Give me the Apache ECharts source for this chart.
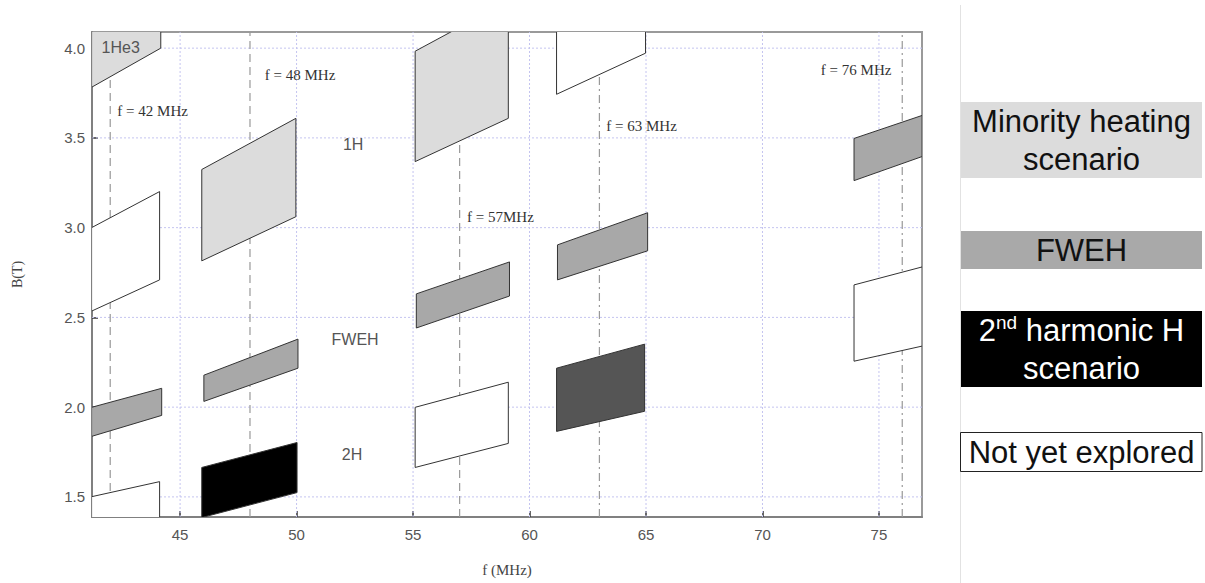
<!DOCTYPE html>
<html>
<head>
<meta charset="utf-8">
<script src="https://cdn.jsdelivr.net/npm/echarts@6/dist/echarts.min.js"></script>
<style>
html,body{margin:0;padding:0;background:#fff;}
#chart{width:1205px;height:583px;}
</style>
</head>
<body>
<div id="chart"></div>
<script>
// ---- axis ticks ----
const xTicks = [45, 50, 55, 60, 65, 70, 75];
const yTicks = [1.5, 2.0, 2.5, 3.0, 3.5, 4.0];
const freqLines = [42, 48, 57, 63, 76];

// ---- operating regions (parallelograms in f-B plane) ----
const regionKind   = ['minority','unexplored','fweh','unexplored','minority','fweh','second','minority','fweh','unexplored','unexplored','fweh','secondPartial','fweh','unexplored'];
const fLeft        = [41.2, 41.2, 41.2, 41.2, 45.93, 46.02, 45.93, 55.09, 55.14, 55.09, 61.16, 61.2, 61.16, 73.93, 73.93];
const fRight       = [44.17, 44.12, 44.21, 44.12, 49.97, 50.06, 50.02, 59.09, 59.14, 59.09, 64.98, 65.07, 64.94, 76.85, 76.85];
const bTopLeft     = [4.3, 3.0, 1.999, 1.501, 3.324, 2.178, 1.664, 3.983, 2.631, 1.999, 4.3, 2.904, 2.217, 3.497, 2.681];
const bTopRight    = [4.3, 3.201, 2.105, 1.585, 3.609, 2.379, 1.803, 4.263, 2.809, 2.139, 4.3, 3.083, 2.351, 3.625, 2.781];
const bBottomRight = [4.0, 2.709, 1.954, 1.3, 3.061, 2.217, 1.524, 3.609, 2.619, 1.798, 3.972, 2.871, 1.977, 3.396, 2.34];
const bBottomLeft  = [3.782, 2.535, 1.837, 1.3, 2.815, 2.032, 1.385, 3.368, 2.441, 1.664, 3.743, 2.709, 1.865, 3.262, 2.256];

// ---- in-plot annotations ----
const annoText = ['1He3', 'f = 42 MHz', 'f = 48 MHz', '1H', 'f = 57MHz', 'f = 63 MHz', 'f = 76 MHz', 'FWEH', '2H'];
const annoF    = [42.45, 43.82, 50.15, 52.43, 58.75, 64.81, 74.02, 52.51, 52.38];
const annoB    = [4.006, 3.648, 3.849, 3.463, 3.061, 3.564, 3.877, 2.379, 1.736];
const annoKind = ['region', 'freq', 'freq', 'region', 'freq', 'freq', 'freq', 'region', 'region'];

// ---- legend labels ----
const legendLabels = ['Minority heating\nscenario', 'FWEH', '2nd harmonic H\nscenario', 'Not yet explored'];

// ---- styles ----
const X_MIN = 41.218, X_MAX = 76.848, Y_MIN = 1.388, Y_MAX = 4.09;
const fillOf = {minority:'#dcdcdc', fweh:'#a8a8a8', second:'#000000', secondPartial:'#555555', unexplored:'#ffffff'};
const SANS = '"Liberation Sans", Arial, sans-serif';
const SERIF = '"Liberation Serif", "Times New Roman", serif';

const chart = echarts.init(document.getElementById('chart'), null, {renderer: 'svg'});

function vGridItem(params, api) {
  const v = api.value(0);
  const p1 = api.coord([v, Y_MIN]), p2 = api.coord([v, Y_MAX]);
  return {type:'line', shape:{x1:p1[0], y1:p1[1], x2:p2[0], y2:p2[1]},
    style:{stroke:'#c4c4f0', lineWidth:1, lineDash:[2,2]}, silent:true};
}
function hGridItem(params, api) {
  const v = api.value(1);
  const p1 = api.coord([X_MIN, v]), p2 = api.coord([X_MAX, v]);
  return {type:'line', shape:{x1:p1[0], y1:p1[1], x2:p2[0], y2:p2[1]},
    style:{stroke:'#c4c4f0', lineWidth:1, lineDash:[2,2]}, silent:true};
}
function freqItem(params, api) {
  const v = api.value(0);
  const p1 = api.coord([v, Y_MIN]), p2 = api.coord([v, Y_MAX]);
  const dash = (v === 63 || v === 76) ? [8,4,2,4] : [8,5];
  return {type:'line', shape:{x1:p1[0], y1:p1[1], x2:p2[0], y2:p2[1]},
    style:{stroke:'#999999', lineWidth:1.2, lineDash:dash}, silent:true};
}
function regionItem(params, api) {
  const i = params.dataIndex;
  const pts = [
    api.coord([fLeft[i], bTopLeft[i]]),
    api.coord([fRight[i], bTopRight[i]]),
    api.coord([fRight[i], bBottomRight[i]]),
    api.coord([fLeft[i], bBottomLeft[i]])
  ];
  return {type:'polygon', shape:{points:pts},
    style:{fill:fillOf[regionKind[i]], stroke:'#333', lineWidth:1}};
}
function annoItem(params, api) {
  const i = params.dataIndex;
  const p = api.coord([annoF[i], annoB[i]]);
  const isFreq = annoKind[i] === 'freq';
  return {type:'text', x:p[0], y:p[1], silent:true,
    style:{text:annoText[i], align:'center', verticalAlign:'middle',
      font: isFreq ? ('15px ' + SERIF) : ('16px ' + SANS),
      fill: isFreq ? '#333' : '#555'}};
}

const option = {
  backgroundColor:'#fff',
  animation:false,
  grid:{left:92, right:283, top:32, bottom:66, show:true, borderColor:'#9a9a9a', borderWidth:2, backgroundColor:'transparent'},
  xAxis:{
    type:'value', min:X_MIN, max:X_MAX,
    name:'f (MHz)', nameLocation:'middle', nameGap:45,
    nameTextStyle:{fontFamily:SERIF, fontSize:15, color:'#444'},
    axisLine:{show:true, lineStyle:{color:'#808080', width:2}},
    axisTick:{show:true, inside:true, length:6, customValues:xTicks, lineStyle:{color:'#333', width:1.5}},
    axisLabel:{customValues:xTicks, fontFamily:SANS, fontSize:15, color:'#555', margin:10},
    splitLine:{show:false}
  },
  yAxis:{
    type:'value', min:Y_MIN, max:Y_MAX,
    name:'B(T)', nameLocation:'middle', nameGap:68,
    nameTextStyle:{fontFamily:SERIF, fontSize:14, color:'#444'},
    axisLine:{show:true, lineStyle:{color:'#808080', width:2}},
    axisTick:{show:true, inside:true, length:6, customValues:yTicks, lineStyle:{color:'#333', width:1.5}},
    axisLabel:{customValues:yTicks, fontFamily:SANS, fontSize:15, color:'#555', margin:7,
      formatter:function(v){return v.toFixed(1);}},
    splitLine:{show:false}
  },
  series:[
    {type:'custom', name:'vgrid', z:1, renderItem:vGridItem, data:xTicks.map(v=>[v, Y_MIN]), silent:true},
    {type:'custom', name:'hgrid', z:1, renderItem:hGridItem, data:yTicks.map(v=>[X_MIN, v]), silent:true},
    {type:'custom', name:'freq', z:2, renderItem:freqItem, data:freqLines.map(v=>[v, Y_MIN]), silent:true},
    {type:'custom', name:'regions', z:3, clip:true, renderItem:regionItem,
      data:fLeft.map((v,i)=>[v, bBottomLeft[i]])},
    {type:'custom', name:'annotations', z:4, renderItem:annoItem,
      data:annoF.map((v,i)=>[v, annoB[i]]), silent:true}
  ],
  graphic:[
    {type:'line', shape:{x1:960.5, y1:5, x2:960.5, y2:583}, style:{stroke:'#e2e2e2', lineWidth:1}, silent:true},
    {type:'rect', shape:{x:961, y:102, width:241, height:76}, style:{fill:'#dcdcdc'}, silent:true},
    {type:'text', x:1081.5, y:140, silent:true,
      style:{text:legendLabels[0], font:'31px ' + SANS, fill:'#111', align:'center', verticalAlign:'middle', lineHeight:38}},
    {type:'rect', shape:{x:961, y:231, width:241, height:38}, style:{fill:'#a9a9a9'}, silent:true},
    {type:'text', x:1081.5, y:250, silent:true,
      style:{text:legendLabels[1], font:'31px ' + SANS, fill:'#111', align:'center', verticalAlign:'middle'}},
    {type:'rect', shape:{x:961, y:311, width:241, height:76}, style:{fill:'#000'}, silent:true},
    {type:'text', x:1081.5, y:349, silent:true,
      style:{text:'{a|2}{s|nd}{a| harmonic H}\n{a|scenario}', align:'center', verticalAlign:'middle',
        rich:{a:{font:'31px ' + SANS, fill:'#fff', lineHeight:38},
              s:{font:'19px ' + SANS, fill:'#fff', lineHeight:38, verticalAlign:'top', padding:[2,0,8,0]}}}},
    {type:'rect', shape:{x:960.5, y:432.5, width:241.5, height:39}, style:{fill:'#fff', stroke:'#222', lineWidth:1}, silent:true},
    {type:'text', x:1081.5, y:452, silent:true,
      style:{text:legendLabels[3], font:'31px ' + SANS, fill:'#111', align:'center', verticalAlign:'middle'}}
  ]
};
chart.setOption(option);
</script>
</body>
</html>
